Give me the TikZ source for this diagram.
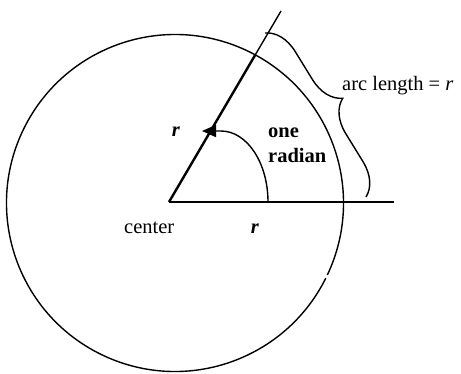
\documentclass[tikz,border=0pt]{standalone}
\usepackage{fontspec}
\setmainfont{Liberation Serif}
\usetikzlibrary{arrows.meta,decorations.pathreplacing}
\begin{document}
\begin{tikzpicture}[x=1pt,y=-1pt,
  thickline/.style={line width=2.4pt},
  thinline/.style={line width=1.4pt},
  lbl/.style={inner sep=0pt,anchor=base west,font=\fontsize{20.5}{24}\selectfont},
  lblc/.style={inner sep=0pt,anchor=base,font=\fontsize{20.5}{24}\selectfont}]
\useasboundingbox (0,0) rectangle (461,373);
% points
\coordinate (A) at (169,202);
\coordinate (C) at (175,203);
\coordinate (T) at (281,11);
\coordinate (P) at (255.3,54.8);
\coordinate (Q) at (343.5,202);
\coordinate (E) at (394,202);
\coordinate (S) at (268,202);
\coordinate (B1) at (265,33);
\coordinate (B2) at (366,197);
% circle with tiny gap
\draw[thinline] ([shift={(26.5:168.5)}]C) arc[start angle=26.5, end angle=385.3, radius=168.5];
% radii
\draw[thickline] (A) -- (P);
\draw[thinline] (P) -- (T);
\draw[thickline] (A) -- (Q);
\draw[thinline] (Q) -- (E);
% angle arrow
\draw[thinline,-{Triangle[length=14pt,width=12pt]}] (S) arc[start angle=0, end angle=-90, x radius=47, y radius=71] -- (202,131);
% brace
\draw[thinline,decorate,decoration={brace,amplitude=32pt}] (B1) -- (B2);
% labels
\node[lbl] (arcl) at (342,90) {arc length = \textit{r}};
\node[lblc] (r1) at (176,136) {\textbf{\textit{r}}};
\node[lblc] (r2) at (255,233) {\textbf{\textit{r}}};
\node[lbl] (ctr) at (124,233) {center};
\node[lbl] (one) at (268,137) {\textbf{one}};
\node[lbl] (rad) at (268,162) {\textbf{radian}};
\end{tikzpicture}
\end{document}
